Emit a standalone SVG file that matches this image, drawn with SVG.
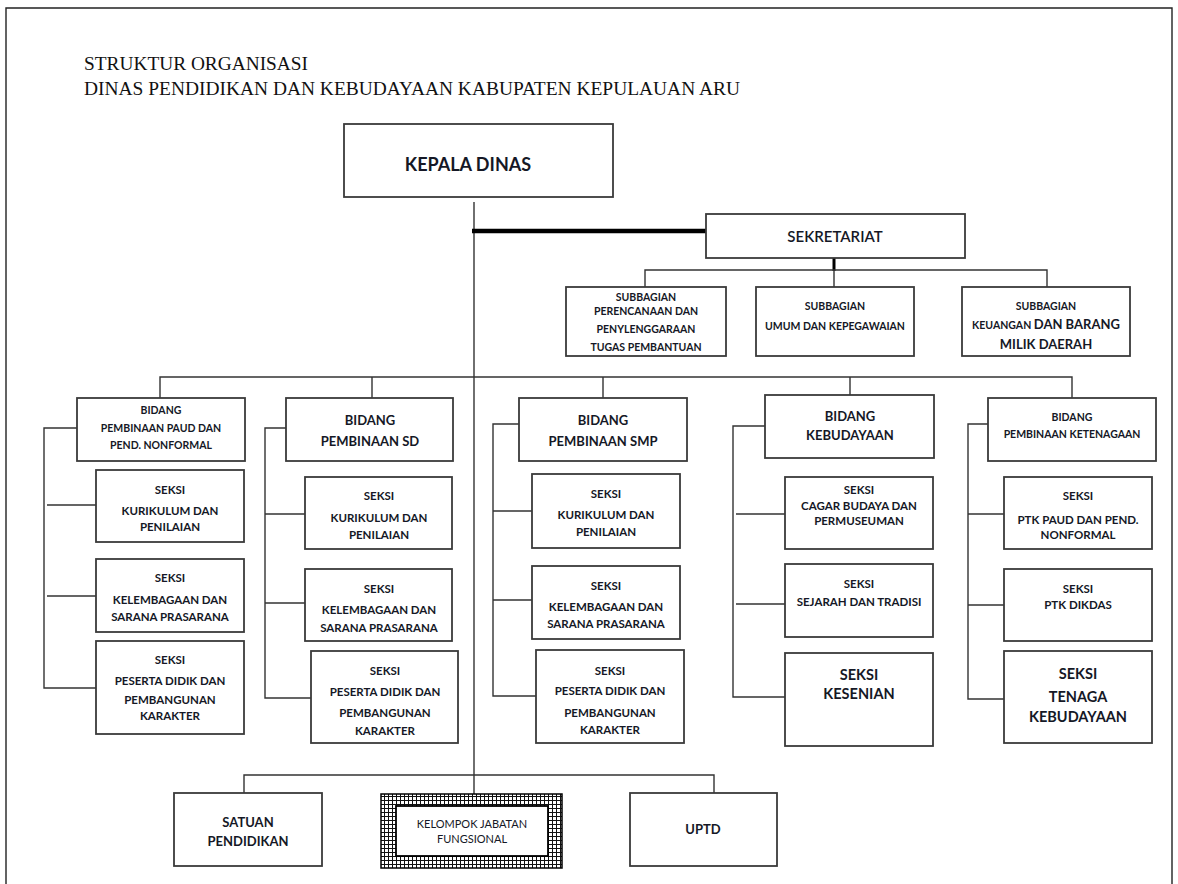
<svg xmlns="http://www.w3.org/2000/svg" width="1178" height="884" viewBox="0 0 1178 884">
<defs>
<style>
.bx{fill:#fff;stroke:#3a3a3a;stroke-width:1.8}
.ln{fill:none;stroke:#333;stroke-width:1.4}
.thk{fill:none;stroke:#000;stroke-width:4.5}
.t{font-family:Lato,"Liberation Sans",sans-serif;font-weight:bold;fill:#151826;text-anchor:middle}
.s10{font-size:10.5px}
.s11{font-size:11.5px}
.s13{font-size:13px}
.s14{font-size:14.5px}
.ttl{font-family:"Liberation Serif","Times New Roman",serif;font-size:18px;fill:#111}
</style>
<pattern id="grid" width="4" height="4" patternUnits="userSpaceOnUse">
<rect width="4" height="4" fill="#fff"/>
<path d="M0 0.5H4M0.5 0V4" stroke="#111" stroke-width="1"/>
</pattern>
</defs>
<rect x="0" y="0" width="1178" height="884" fill="#fff"/>
<path d="M6 884V8H1172V884" fill="none" stroke="#222" stroke-width="1.4"/>
<text class="ttl" x="84" y="70" textLength="224" lengthAdjust="spacingAndGlyphs">STRUKTUR ORGANISASI</text>
<text class="ttl" x="84" y="95" textLength="656" lengthAdjust="spacingAndGlyphs">DINAS PENDIDIKAN DAN KEBUDAYAAN KABUPATEN KEPULAUAN ARU</text>

<g id="connectors">
<path class="ln" d="M474 202V794"/>
<path class="thk" d="M472 231H706"/>
<path class="thk" d="M834 258V271" style="stroke-width:3"/>
<path class="ln" d="M645 287V270H1047V287M834 270V287"/>
<path class="ln" d="M160 398V377H1072V398M372 377V398M603 377V398M850 377V395"/>
<path class="ln" d="M77 428H44V688H96M47 505H96M47 596H96"/>
<path class="ln" d="M286 428H265V698H311M265 514H305M265 603H305"/>
<path class="ln" d="M519 424H493V696H536M493 511H532M493 600H532"/>
<path class="ln" d="M765 426H733V697H785M736 514H785M736 604H785"/>
<path class="ln" d="M988 424H968V699H1004M968 514H1004M968 605H1004"/>
<path class="ln" d="M244 793V775H714V793"/>
</g>

<g id="kepala-dinas"><rect class="bx" x="344" y="124" width="269" height="73"/><text class="t" x="468" y="171" style="font-size:18px">KEPALA DINAS</text></g>
<g id="sekretariat"><rect class="bx" x="706" y="214" width="259" height="44"/><text class="t" x="835" y="242" style="font-size:15px;font-weight:600">SEKRETARIAT</text></g>

<g id="subbag-perencanaan"><rect class="bx" x="566" y="287" width="160" height="69"/>
<text class="t s10" x="646" y="301">SUBBAGIAN</text><text class="t s10" x="646" y="315">PERENCANAAN DAN</text><text class="t s10" x="646" y="333">PENYLENGGARAAN</text><text class="t s10" x="646" y="351">TUGAS PEMBANTUAN</text></g>
<g id="subbag-umum"><rect class="bx" x="756" y="287" width="158" height="69"/>
<text class="t s10" x="835" y="310">SUBBAGIAN</text><text class="t s10" x="835" y="330">UMUM DAN KEPEGAWAIAN</text></g>
<g id="subbag-keuangan"><rect class="bx" x="962" y="287" width="168" height="69"/>
<text class="t s10" x="1046" y="310">SUBBAGIAN</text><text class="t" x="1046" y="329"><tspan class="s10">KEUANGAN </tspan><tspan class="s13"> DAN BARANG</tspan></text><text class="t s13" x="1046" y="349">MILIK DAERAH</text></g>

<g id="bidang-paud"><rect class="bx" x="77" y="398" width="168" height="63"/>
<text class="t s10" x="161" y="414">BIDANG</text><text class="t s10" x="161" y="432">PEMBINAAN PAUD DAN</text><text class="t s10" x="161" y="449">PEND. NONFORMAL</text></g>
<g id="paud-kurikulum"><rect class="bx" x="96" y="470" width="148" height="72"/>
<text class="t s11" x="170" y="494">SEKSI</text><text class="t s11" x="170" y="515">KURIKULUM DAN</text><text class="t s11" x="170" y="531">PENILAIAN</text></g>
<g id="paud-kelembagaan"><rect class="bx" x="96" y="559" width="148" height="73"/>
<text class="t s11" x="170" y="582">SEKSI</text><text class="t s11" x="170" y="604">KELEMBAGAAN DAN</text><text class="t s11" x="170" y="621">SARANA PRASARANA</text></g>
<g id="paud-peserta"><rect class="bx" x="96" y="641" width="148" height="93"/>
<text class="t s11" x="170" y="664">SEKSI</text><text class="t s11" x="170" y="685">PESERTA DIDIK DAN</text><text class="t s11" x="170" y="704">PEMBANGUNAN</text><text class="t s11" x="170" y="720">KARAKTER</text></g>

<g id="bidang-sd"><rect class="bx" x="286" y="398" width="167" height="63"/>
<text class="t s13" x="370" y="425">BIDANG</text><text class="t s13" x="370" y="446">PEMBINAAN SD</text></g>
<g id="sd-kurikulum"><rect class="bx" x="305" y="477" width="147" height="72"/>
<text class="t s11" x="379" y="500">SEKSI</text><text class="t s11" x="379" y="522">KURIKULUM DAN</text><text class="t s11" x="379" y="539">PENILAIAN</text></g>
<g id="sd-kelembagaan"><rect class="bx" x="305" y="569" width="147" height="72"/>
<text class="t s11" x="379" y="593">SEKSI</text><text class="t s11" x="379" y="614">KELEMBAGAAN DAN</text><text class="t s11" x="379" y="632">SARANA PRASARANA</text></g>
<g id="sd-peserta"><rect class="bx" x="311" y="651" width="147" height="92"/>
<text class="t s11" x="385" y="675">SEKSI</text><text class="t s11" x="385" y="696">PESERTA DIDIK DAN</text><text class="t s11" x="385" y="717">PEMBANGUNAN</text><text class="t s11" x="385" y="735">KARAKTER</text></g>

<g id="bidang-smp"><rect class="bx" x="519" y="398" width="168" height="63"/>
<text class="t s13" x="603" y="425">BIDANG</text><text class="t s13" x="603" y="446">PEMBINAAN SMP</text></g>
<g id="smp-kurikulum"><rect class="bx" x="532" y="474" width="148" height="74"/>
<text class="t s11" x="606" y="498">SEKSI</text><text class="t s11" x="606" y="519">KURIKULUM DAN</text><text class="t s11" x="606" y="536">PENILAIAN</text></g>
<g id="smp-kelembagaan"><rect class="bx" x="532" y="566" width="148" height="73"/>
<text class="t s11" x="606" y="590">SEKSI</text><text class="t s11" x="606" y="611">KELEMBAGAAN DAN</text><text class="t s11" x="606" y="628">SARANA PRASARANA</text></g>
<g id="smp-peserta"><rect class="bx" x="536" y="650" width="148" height="93"/>
<text class="t s11" x="610" y="675">SEKSI</text><text class="t s11" x="610" y="695">PESERTA DIDIK DAN</text><text class="t s11" x="610" y="717">PEMBANGUNAN</text><text class="t s11" x="610" y="734">KARAKTER</text></g>

<g id="bidang-kebudayaan"><rect class="bx" x="765" y="395" width="169" height="63"/>
<text class="t s13" x="850" y="421">BIDANG</text><text class="t s13" x="850" y="440">KEBUDAYAAN</text></g>
<g id="keb-cagar"><rect class="bx" x="785" y="477" width="148" height="72"/>
<text class="t s11" x="859" y="494">SEKSI</text><text class="t s11" x="859" y="510">CAGAR BUDAYA DAN</text><text class="t s11" x="859" y="525">PERMUSEUMAN</text></g>
<g id="keb-sejarah"><rect class="bx" x="785" y="564" width="148" height="73"/>
<text class="t s11" x="859" y="588">SEKSI</text><text class="t s11" x="859" y="606">SEJARAH DAN TRADISI</text></g>
<g id="keb-kesenian"><rect class="bx" x="785" y="653" width="148" height="93"/>
<text class="t s14" x="859" y="680">SEKSI</text><text class="t s14" x="859" y="699">KESENIAN</text></g>

<g id="bidang-ketenagaan"><rect class="bx" x="988" y="398" width="168" height="63"/>
<text class="t s10" x="1072" y="421">BIDANG</text><text class="t s10" x="1072" y="438">PEMBINAAN KETENAGAAN</text></g>
<g id="ket-paud"><rect class="bx" x="1004" y="477" width="148" height="72"/>
<text class="t s11" x="1078" y="500">SEKSI</text><text class="t s11" x="1078" y="524">PTK PAUD DAN PEND.</text><text class="t s11" x="1078" y="539">NONFORMAL</text></g>
<g id="ket-dikdas"><rect class="bx" x="1004" y="569" width="148" height="72"/>
<text class="t s11" x="1078" y="593">SEKSI</text><text class="t s11" x="1078" y="609">PTK DIKDAS</text></g>
<g id="ket-tenaga"><rect class="bx" x="1004" y="651" width="148" height="92"/>
<text class="t s14" x="1078" y="679">SEKSI</text><text class="t s14" x="1078" y="702">TENAGA</text><text class="t s14" x="1078" y="722">KEBUDAYAAN</text></g>

<g id="satuan-pendidikan"><rect class="bx" x="174" y="793" width="148" height="73"/>
<text class="t s13" x="248" y="827">SATUAN</text><text class="t s13" x="248" y="846">PENDIDIKAN</text></g>
<g id="kelompok-jabatan"><rect x="381" y="794" width="181" height="74" fill="url(#grid)" stroke="#000" stroke-width="1.5"/>
<rect class="bx" x="396" y="806" width="152" height="50" style="stroke:#000"/>
<text class="t" x="472" y="828" style="font-size:11px;font-weight:normal">KELOMPOK JABATAN</text><text class="t" x="472" y="843" style="font-size:11px;font-weight:normal">FUNGSIONAL</text></g>
<g id="uptd"><rect class="bx" x="630" y="793" width="147" height="73"/>
<text class="t s13" x="703" y="834">UPTD</text></g>
</svg>
